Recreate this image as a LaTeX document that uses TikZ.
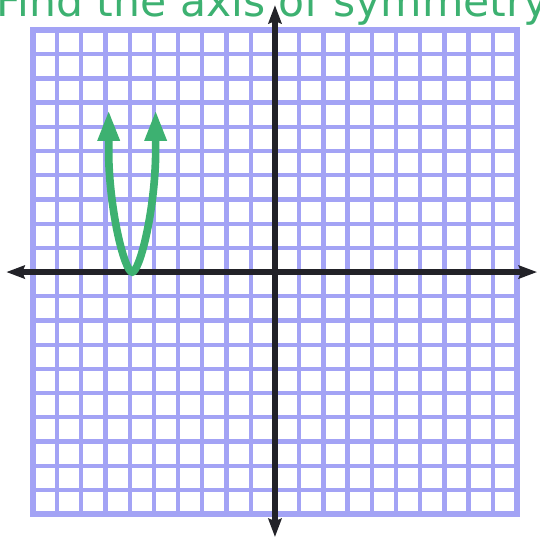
\documentclass[tikz,border=0pt]{standalone}
\usepackage{fontspec}
\usepackage{tikz}
\usetikzlibrary{arrows.meta, positioning, calc}
\newfontfamily\titlefont{DejaVu Sans}
\definecolor{GridLavender}{HTML}{A3A3F5}
\definecolor{CurveGreen}{HTML}{3DB171}
\definecolor{AxisBlack}{HTML}{222228}

\begin{document}
\begin{tikzpicture}[x=0.5cm, y=0.5cm,
    gridline/.style={draw=GridLavender, line width=2.5pt, step=0.5cm},
    gridborder/.style={draw=GridLavender, line width=3.4pt},
    axisline/.style={draw=AxisBlack, line width=3.4pt, {Stealth[length=0.38cm, width=0.27cm, inset=0.05cm]}-{Stealth[length=0.38cm, width=0.27cm, inset=0.05cm]}},
    curveline/.style={draw=CurveGreen, line width=4.5pt, {Triangle[length=0.64cm, width=0.42cm]}-{Triangle[length=0.64cm, width=0.42cm]}}]
                \useasboundingbox (-11.36,-11.07) rectangle (10.95,11.24);

                % Title
                \node (title) [anchor=base west, inner sep=0, text=CurveGreen, font=\titlefont\fontsize{25}{30}\selectfont] at (-11.53,10.56) {Find the axis of symmetry};

                % Grid
                \draw[gridline] (-10,-10) grid (10,10);
                \draw[gridborder] (-10,-10) rectangle (10,10);

                % Axes
                \coordinate (xmin) at (-11.1,0);
                \coordinate (xmax) at (10.83,0);
                \coordinate (ymin) at (0,-10.95);
                \coordinate (ymax) at (0,11.03);
                \draw[axisline] (xmin) -- (xmax);
                \draw[axisline] (ymin) -- (ymax);

                % Parabola
                \coordinate (vertex) at (-5.9,0);
                \coordinate (lefttip) at ($(vertex)+(-0.97,6.7)$);
                \coordinate (righttip) at ($(vertex)+(0.97,6.7)$);
                \draw[curveline] (lefttip) -- ++(0,-1.9)
                    .. controls +(0.05,-2.4) and ($(vertex)+(-0.3,0)$) .. (vertex)
                    .. controls ($(vertex)+(0.3,0)$) and ($(righttip)+(-0.05,-4.3)$) .. ($(righttip)+(0,-1.9)$)
                    -- (righttip);
            \end{tikzpicture}
\end{document}
